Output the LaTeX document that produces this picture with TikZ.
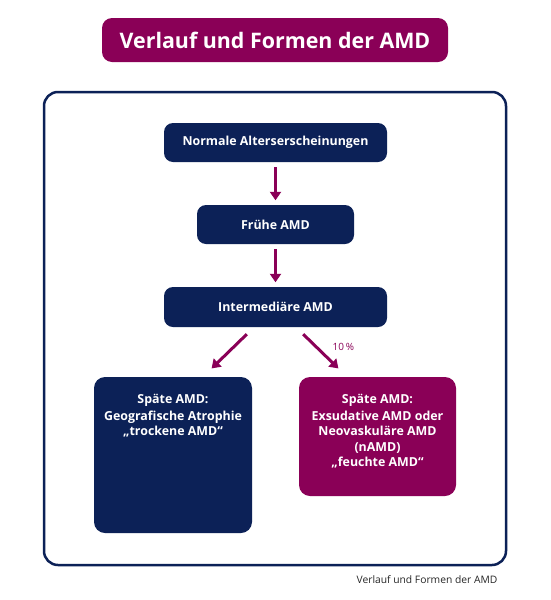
\documentclass[tikz,border=0pt]{standalone}
\usepackage{fontspec}
\setmainfont{Open Sans}
\usetikzlibrary{positioning,arrows.meta}
\definecolor{navyColor}{RGB}{12,33,87}
\definecolor{plumColor}{RGB}{138,0,87}
\tikzstyle{titleBox} = [fill=plumColor, text=white, rounded corners=10pt, minimum width=346pt, minimum height=44pt, font=\bfseries\fontsize{21.4}{25}\selectfont]
\tikzstyle{frameLine} = [draw=navyColor, line width=2.5pt, rounded corners=14pt]
\tikzstyle{stageBox} = [fill=navyColor, text=white, rounded corners=9pt, inner sep=0pt, font=\bfseries\fontsize{12.4}{15}\selectfont]
\tikzstyle{lateBox} = [rounded corners=11pt, inner sep=0pt]
\tikzstyle{lateText} = [text=white, align=center, inner sep=0pt, anchor=north, font=\bfseries\fontsize{12.4}{15.5}\selectfont]
\tikzstyle{flowArrow} = [draw=plumColor, line width=3pt, -{Triangle[width=11pt, length=8.5pt]}]
\tikzstyle{pctLabel} = [text=plumColor, font=\fontsize{10}{12}\selectfont]
\begin{document}
\begin{tikzpicture}[x=1pt, y=-1pt]
  \useasboundingbox [fill=white] (0,0) rectangle (551,600);
  % title and frame
  \node [titleBox] (title) at (275,40) {Verlauf und Formen der AMD};
  \draw [frameLine] (44,92) rectangle (506,565);
  % stages
  \node [stageBox, minimum width=223pt, minimum height=39pt] (normal) at (275.5,142.5) {Normale Alterserscheinungen};
  \node [stageBox, minimum width=157pt, minimum height=39pt] (early) at (275.5,224.5) {Frühe AMD};
  \node [stageBox, minimum width=223pt, minimum height=40pt] (intermediate) at (275.5,307) {Intermediäre AMD};
  \node [lateBox, fill=navyColor, minimum width=158pt, minimum height=156pt] (lateDry) at (173,455) {};
  \node [lateBox, fill=plumColor, minimum width=157pt, minimum height=119pt] (lateWet) at (377.5,436.5) {};
  \node [lateText] (lateDryText) at ([yshift=-17]lateDry.north) {Späte AMD:\\[1.5pt] Geografische Atrophie\\ „trockene AMD“};
  \node [lateText] (lateWetText) at ([yshift=-17]lateWet.north) {Späte AMD:\\[1.5pt] Exsudative AMD oder\\ Neovaskuläre AMD\\ (nAMD)\\ „feuchte AMD“};
  % arrows
  \draw [flowArrow, shorten <=5pt, shorten >=4.5pt] (normal) -- (early);
  \draw [flowArrow, shorten <=5pt, shorten >=4.5pt] (early) -- (intermediate);
  \draw [flowArrow, shorten <=10pt, shorten >=12pt] ([xshift=-21.5]intermediate.south) -- ([xshift=30]lateDry.north);
  \draw [flowArrow, shorten <=10pt, shorten >=12pt] ([xshift=20.5]intermediate.south) -- ([xshift=-30.5]lateWet.north)
    node [pctLabel, pos=0.4, xshift=27] (percent) {10\,\%};
  % caption
  \node [font=\fontsize{10.3}{12}\selectfont, text=black!85] (caption) at (427,580) {Verlauf und Formen der AMD};
\end{tikzpicture}
\end{document}
